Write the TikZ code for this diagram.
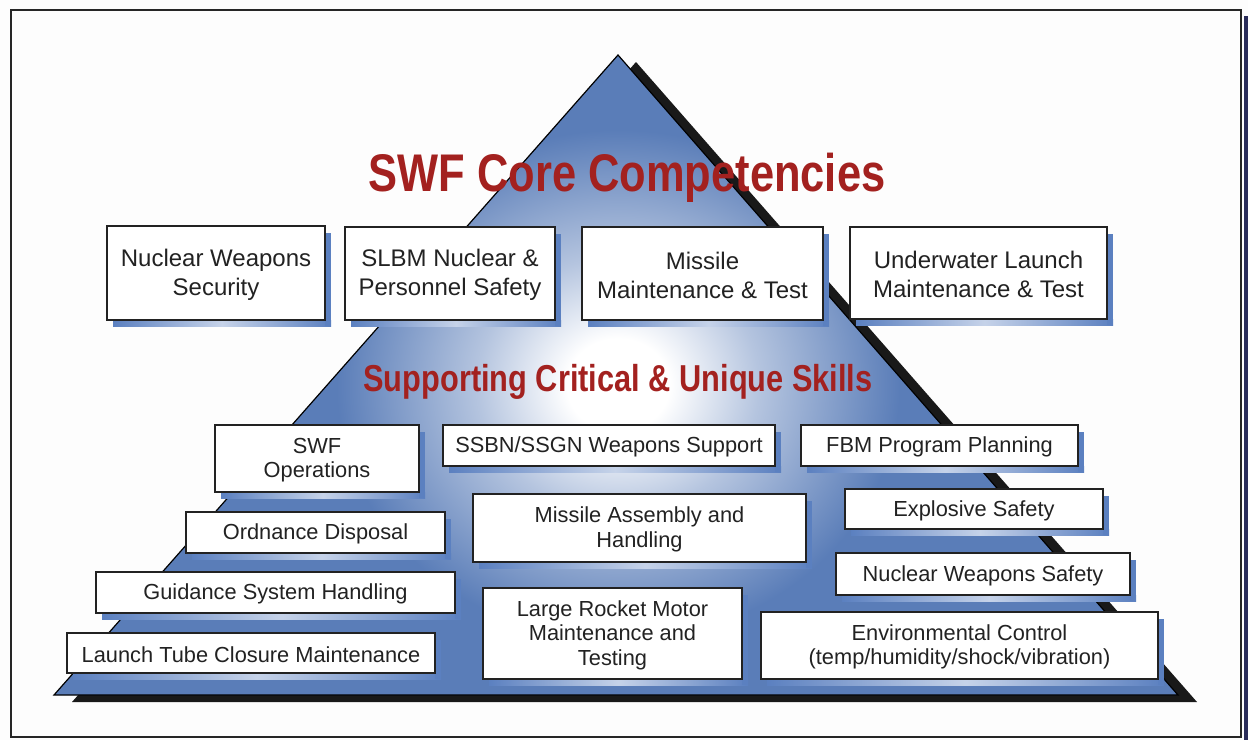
\documentclass[tikz,border=0pt]{standalone}
\usepackage{fontspec}
\setmainfont{Liberation Sans}
\newfontfamily\titlefont[FakeStretch=0.82]{Liberation Sans}
\usetikzlibrary{calc}
\definecolor{pyr}{HTML}{5A7DB8}
\definecolor{shb}{HTML}{5B80C0}
\definecolor{ttl}{HTML}{A3211F}
\definecolor{navy}{HTML}{2B2D5A}
\definecolor{txt}{HTML}{222222}
\definecolor{bg}{HTML}{FDFDFD}
\colorlet{pyrmid}{pyr!45!white}
\pgfdeclareradialshading{glow}{\pgfpoint{0bp}{0bp}}{color(0bp)=(white); color(4bp)=(white); color(11bp)=(pyrmid); color(22bp)=(pyr); color(50bp)=(pyr)}
\tikzset{
  box/.style={draw=txt, line width=1.8pt, fill=white, text=txt, align=center, inner sep=0pt},
  bigtxt/.style={font=\fontsize{24}{29}\selectfont},
  smalltxt/.style={font=\fontsize{21.8}{24.5}\selectfont},
  ttlstyle/.style={text=ttl, inner sep=0pt},
}
\newcommand\skillbox[7]{%
  \pgfmathsetmacro\bxcx{(#2+#4)/2}%
  \pgfmathsetmacro\bxcy{(#3+#5)/2+1.5}%
  \pgfmathsetmacro\bxw{#4-#2}%
  \pgfmathsetmacro\bxh{#5-#3}%
  \shade[left color=shb, right color=shb, middle color=white!65!shb] (#2+6,#5) rectangle (#4+6,#5+6);
  \fill[shb] (#4,#3+7) rectangle (#4+6,#5+6);
  \node[box, #6, minimum width=\bxw pt, minimum height=\bxh pt] (#1) at (\bxcx,\bxcy-1.5) {};
  \node[text=txt, align=center, inner sep=0pt, #6] at (\bxcx,\bxcy) {#7};
}
\begin{document}
\begin{tikzpicture}[x=1pt,y=-1pt]
\useasboundingbox (0,0) rectangle (1248,740);
\fill[bg] (0,0) rectangle (1248,740);
\fill[navy] (1243.5,16) rectangle (1248,740);
\draw[line width=2.2pt, black!85] (11,10) rectangle (1241,737);
% pyramid shadow
\fill[black!90] (636,62) -- (1197,702) -- (72,702) -- cycle;
% pyramid
\begin{scope}
\clip (618,55) -- (1178,695) -- (54,695) -- cycle;
\fill[pyr] (0,0) rectangle (1248,740);
\shade[shading=glow] (618,385) ellipse [x radius=320, y radius=290];
\end{scope}
\draw[line width=1.2pt, black] (618,55) -- (1178,695) -- (54,695) -- cycle;
% titles
\node[ttlstyle, font=\titlefont\bfseries\fontsize{53}{60}\selectfont] (core) at (627,178) {SWF Core Competencies};
\node[ttlstyle, font=\titlefont\bfseries\fontsize{37.5}{44}\selectfont] (skills) at (618,382) {Supporting Critical \& Unique Skills};
% core boxes
\skillbox{nws}{107}{226}{325}{320}{bigtxt}{Nuclear Weapons\\Security}
\skillbox{slbm}{345}{227}{555}{320}{bigtxt}{SLBM Nuclear \&\\Personnel Safety}
\skillbox{mmt}{582}{227}{823}{320}{bigtxt}{Missile\\Maintenance \& Test}
\skillbox{ulmt}{850}{227}{1107}{319}{bigtxt}{Underwater Launch\\Maintenance \& Test}
% skill boxes
\skillbox{swfops}{215}{425}{419}{492}{smalltxt}{SWF\\Operations}
\skillbox{ord}{186}{512}{445}{553}{smalltxt}{Ordnance Disposal}
\skillbox{gsh}{96}{572}{455}{613}{smalltxt}{Guidance System Handling}
\skillbox{ltcm}{67}{633}{435}{673}{smalltxt}{Launch Tube Closure Maintenance}
\skillbox{ssbn}{443}{425}{775}{466}{smalltxt}{SSBN/SSGN Weapons Support}
\skillbox{mah}{473}{494}{806}{562}{smalltxt}{Missile Assembly and\\Handling}
\skillbox{lrm}{483}{588}{742}{679}{smalltxt}{Large Rocket Motor\\Maintenance and\\Testing}
\skillbox{fbm}{801}{425}{1078}{466}{smalltxt}{FBM Program Planning}
\skillbox{exs}{845}{489}{1103}{529}{smalltxt}{Explosive Safety}
\skillbox{nwsaf}{836}{553}{1130}{595}{smalltxt}{Nuclear Weapons Safety}
\skillbox{env}{761}{612}{1158}{679}{smalltxt}{Environmental Control\\(temp/humidity/shock/vibration)}
\end{tikzpicture}
\end{document}
